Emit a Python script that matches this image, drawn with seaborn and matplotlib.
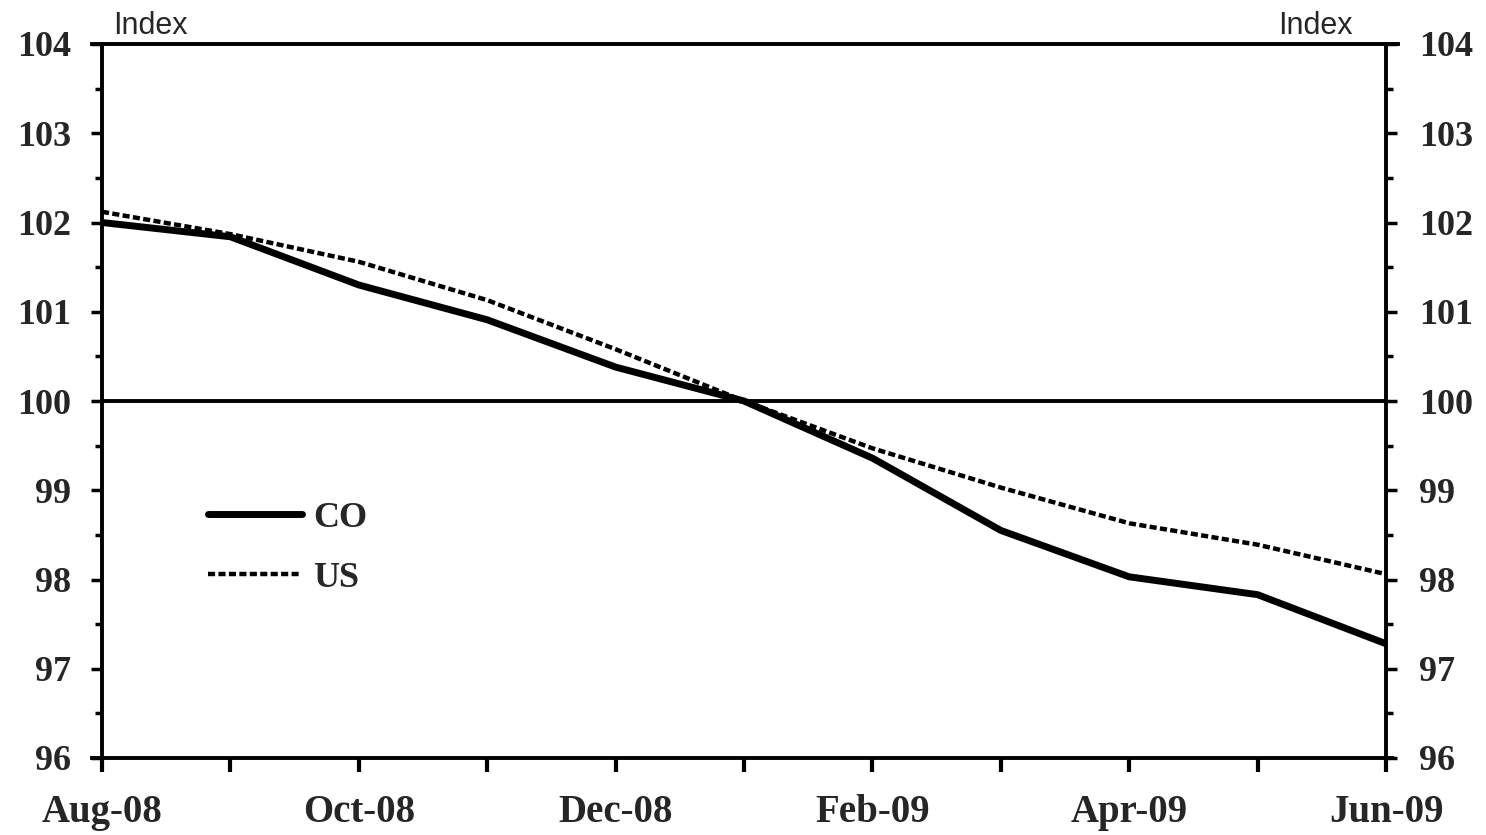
import numpy as np
import pandas as pd
import matplotlib
matplotlib.use("Agg")
import matplotlib.pyplot as plt
import seaborn as sns

# ---- data ----
months = ["Aug-08", "Sep-08", "Oct-08", "Nov-08", "Dec-08", "Jan-09",
          "Feb-09", "Mar-09", "Apr-09", "May-09", "Jun-09"]
tick_labels = ["Aug-08", "", "Oct-08", "", "Dec-08", "",
               "Feb-09", "", "Apr-09", "", "Jun-09"]
co = [102.00, 101.84, 101.30, 100.91, 100.38, 100.00,
      99.36, 98.55, 98.03, 97.83, 97.28]
us = [102.12, 101.87, 101.56, 101.13, 100.58, 100.00,
      99.47, 99.03, 98.63, 98.39, 98.06]
y_ticks = [96, 97, 98, 99, 100, 101, 102, 103, 104]

df = pd.DataFrame({"idx": np.arange(len(months)), "month": months, "CO": co, "US": us})

sns.set_style("white")
plt.rcParams["font.family"] = ["Liberation Serif", "DejaVu Serif"]

W, H = 1486, 835
fig = plt.figure(figsize=(W / 100, H / 100), dpi=100)
L, R, T, B = 102, 1386, 44, 758
ax = fig.add_axes([L / W, (H - B) / H, (R - L) / W, (B - T) / H])

sns.lineplot(data=df, x="idx", y="CO", ax=ax, color="black", linewidth=5.0,
             label="CO", solid_capstyle="round")
sns.lineplot(data=df, x="idx", y="US", ax=ax, color="black", linewidth=3.2,
             linestyle=(0, (1.6, 0.75)), label="US")
ax.axhline(100, color="black", linewidth=2.8, zorder=1)

ax.set_xlim(0, len(months) - 1)
ax.set_ylim(96, 104)
ax.set_xlabel("")
ax.set_ylabel("")
ax.set_xticks(df["idx"])
ax.set_xticklabels(tick_labels)
ax.set_yticks(y_ticks)
ax.set_yticks(np.arange(96.5, 104, 1.0), minor=True)

for t in ax.get_xticklabels():
    t.set_fontsize(28)
    t.set_fontweight("bold")
for t in ax.get_yticklabels():
    t.set_fontsize(26)
    t.set_fontweight("bold")

ax.tick_params(axis="x", which="major", direction="out", length=10, width=3,
               pad=16, bottom=True, color="black")
ax.tick_params(axis="y", which="major", direction="out", length=8, width=2.5,
               pad=14, left=True, color="black")
ax.tick_params(axis="y", which="minor", direction="out", length=5, width=2.5,
               left=True, color="black")

for s in ["left", "right", "top", "bottom"]:
    ax.spines[s].set_visible(True)
    ax.spines[s].set_color("black")
    ax.spines[s].set_linewidth(2.8)
ax.spines["top"].set_bounds(-0.08, 10.09)
ax.spines["bottom"].set_bounds(-0.08, 10.05)

ax2 = ax.twinx()
ax2.set_ylim(96, 104)
ax2.set_yticks(y_ticks)
ax2.set_yticks(np.arange(96.5, 104, 1.0), minor=True)
ax2.set_yticklabels([str(v) for v in y_ticks], fontsize=26, fontweight="bold")
ax2.tick_params(axis="y", which="major", direction="out", length=8, width=2.5,
                pad=16, right=True, color="black")
ax2.tick_params(axis="y", which="minor", direction="out", length=5, width=2.5,
                right=True, color="black")
for s in ax2.spines.values():
    s.set_visible(False)
ax2.grid(False)
ax.grid(False)

leg = ax.legend(loc="center left", bbox_to_anchor=(0.0826, 0.294), frameon=False,
                borderpad=0, borderaxespad=0, handlelength=2.6, handletextpad=0.3,
                labelspacing=0.74, prop=dict(family="Liberation Serif", weight="bold", size=26))

fig.text(113 / W, 1 - 34 / H, "Index", fontsize=22, family="Liberation Sans",
         ha="left", va="baseline")
fig.text(1353 / W, 1 - 34 / H, "Index", fontsize=22, family="Liberation Sans",
         ha="right", va="baseline")

fig.savefig("out.png", dpi=100, facecolor="white")
